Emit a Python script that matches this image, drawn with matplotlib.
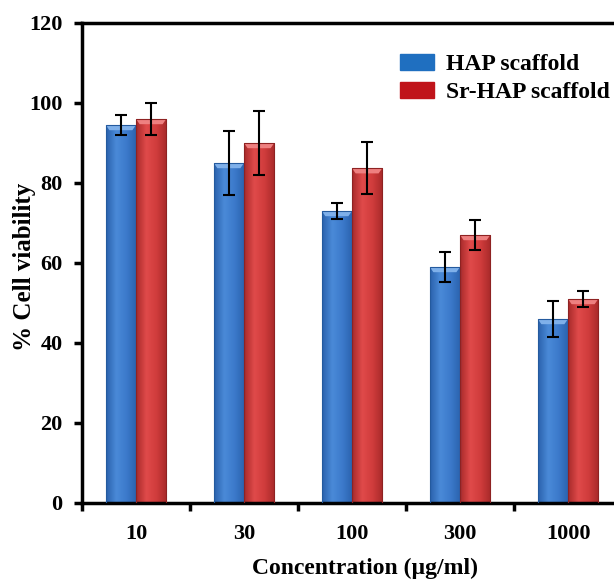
import numpy as np
import matplotlib
matplotlib.use("Agg")
import matplotlib.pyplot as plt
from matplotlib.patches import Patch, Polygon
from matplotlib.colors import LinearSegmentedColormap

categories = ["10", "30", "100", "300", "1000"]
hap = [94.5, 85.0, 73.0, 59.0, 46.0]
hap_err = [2.5, 8.0, 1.9, 3.7, 4.5]
srhap = [96.0, 90.0, 83.7, 67.0, 51.0]
srhap_err = [4.0, 8.0, 6.5, 3.8, 2.0]
yticks = [0, 20, 40, 60, 80, 100, 120]

plt.rcParams['font.family'] = ['Liberation Serif', 'DejaVu Serif']
plt.rcParams['font.weight'] = 'bold'

fig = plt.figure(figsize=(6.14, 5.83), dpi=100)
ax = fig.add_axes([82/614, 80/583, 540/614, 480/583])

x = np.arange(len(categories))
w = 0.28

blue_cmap = LinearSegmentedColormap.from_list("b", ["#2a62ad", "#4a8ad8", "#3c7acb", "#2a62ad"])
red_cmap = LinearSegmentedColormap.from_list("r", ["#a82a2a", "#e04a4a", "#d03c3c", "#a82a2a"])

def draw(vals, offset, cmap, edge, bevel):
    bars = ax.bar(x + offset, vals, w, color="none", edgecolor=edge, linewidth=0.8, zorder=3)
    grad = np.linspace(0, 1, 64).reshape(1, -1)
    for b in bars:
        x0, y0 = b.get_x(), b.get_y()
        bw, bh = b.get_width(), b.get_height()
        im = ax.imshow(grad, cmap=cmap, aspect='auto', extent=[x0, x0 + bw, y0, y0 + bh],
                       zorder=2, interpolation='bicubic')
        im.set_clip_path(b)
        top = y0 + bh
        d = bw * 0.12
        ax.add_patch(Polygon([(x0, top), (x0 + bw, top), (x0 + bw - d, top - 1.3), (x0 + d, top - 1.3)],
                             closed=True, facecolor=bevel, edgecolor='none', zorder=2.5))
    return bars

draw(hap, -w/2, blue_cmap, "#245a9e", "#7fb0ea")
draw(srhap, w/2, red_cmap, "#8e2222", "#ee8080")

ax.errorbar(x - w/2, hap, yerr=hap_err, fmt='none', ecolor='black', elinewidth=1.5,
            capsize=4, capthick=1.5, zorder=4)
ax.errorbar(x + w/2, srhap, yerr=srhap_err, fmt='none', ecolor='black', elinewidth=1.5,
            capsize=4, capthick=1.5, zorder=4)

ax.set_xlim(-0.5, len(categories) - 0.5)
ax.set_ylim(0, 120)
ax.set_yticks(yticks)
ax.set_yticklabels([str(t) for t in yticks], fontsize=16, fontweight='bold')

ax.set_xticks(np.arange(-0.5, len(categories), 1.0))
ax.set_xticklabels([])
ax.set_xticks(x, minor=True)
ax.set_xticklabels(categories, minor=True, fontsize=16, fontweight='bold')
ax.tick_params(axis='x', which='minor', length=0, pad=15)
ax.tick_params(axis='x', which='major', direction='out', length=6, width=2.5)
ax.tick_params(axis='y', direction='out', length=6, width=2.5, pad=8)

for s in ['left', 'bottom', 'top']:
    ax.spines[s].set_linewidth(2.5)
ax.spines['right'].set_visible(False)

fig.text(365/614, 1 - 568/583, "Concentration (µg/ml)", fontsize=17, fontweight='bold',
         ha='center', va='center')
fig.text(25/614, 1 - 267/583, "% Cell viability", fontsize=18, fontweight='bold',
         ha='center', va='center', rotation=90)

handles = [Patch(facecolor="#1f6fc0", edgecolor="#1f6fc0", label="HAP scaffold"),
           Patch(facecolor="#c0141a", edgecolor="#c0141a", label="Sr-HAP scaffold")]
fig.legend(handles=handles, loc='upper left', bbox_to_anchor=(400/614, 1 - 54/583),
           frameon=False, handlelength=1.45, handleheight=0.65,
           handletextpad=0.5, labelspacing=0.3, borderpad=0, borderaxespad=0,
           prop={'weight': 'bold', 'size': 17})

fig.savefig("out.png", dpi=100)
